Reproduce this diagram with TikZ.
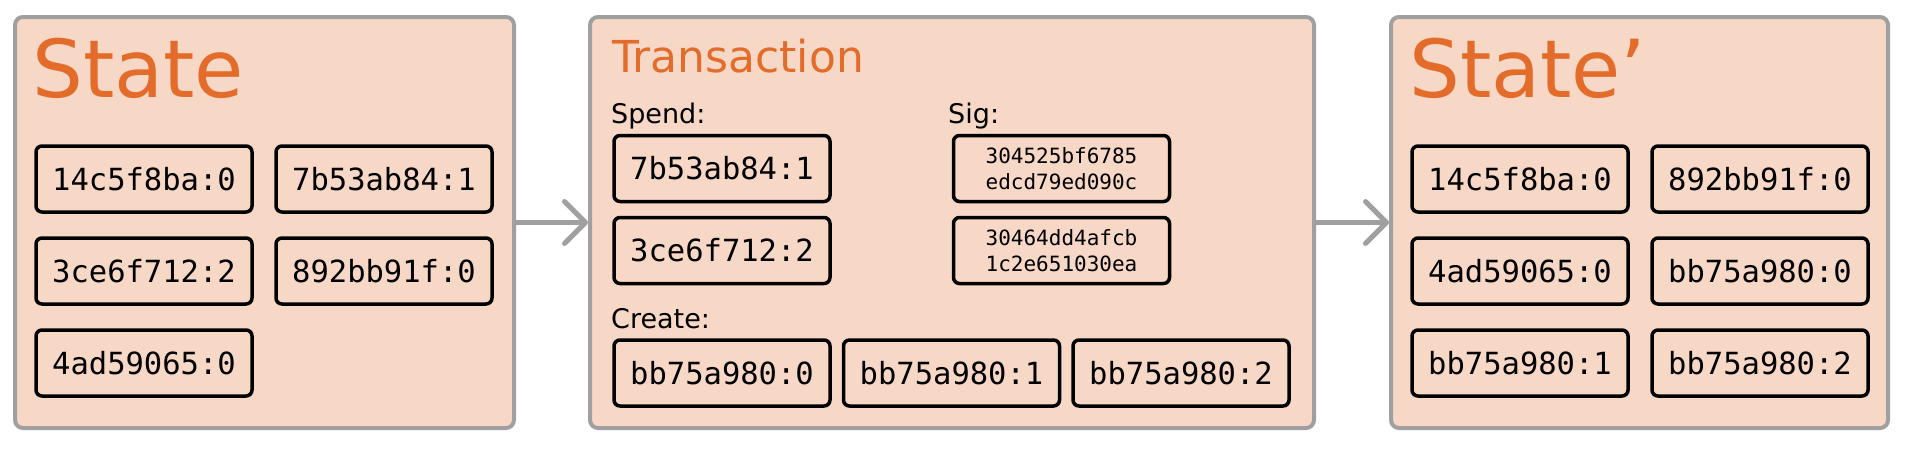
\documentclass[tikz,border=0pt]{standalone}
\usepackage{fontspec}
\setmainfont{DejaVu Sans}
\setmonofont{DejaVu Sans Mono}
\usetikzlibrary{arrows.meta}
\definecolor{peach}{HTML}{F7D7C6}
\definecolor{rust}{HTML}{E46C2B}
\definecolor{frame}{HTML}{A0A0A0}
\begin{document}
\begin{tikzpicture}[x=1pt,y=-1pt,
	panel/.style={draw=frame,line width=4pt,fill=peach,rounded corners=8pt,minimum height=411pt,inner sep=0pt},
	outp/.style={draw,line width=3.5pt,rounded corners=6pt,minimum width=216pt,minimum height=66pt,inner sep=0pt,font=\ttfamily\fontsize{30.5}{36}\selectfont},
	sigbox/.style={outp,align=center,font=\ttfamily\fontsize{21}{26}\selectfont},
	title/.style={anchor=base west,inner sep=0pt,text=rust},
	lbl/.style={anchor=base west,inner sep=0pt,font=\fontsize{27}{32}\selectfont},
	flow/.style={draw=frame,line width=5pt,-{Straight Barb[length=21pt,width=42pt,round]}}]
	\useasboundingbox(0,0)rectangle(1910,450);
	\node[panel,minimum width=499pt](state)at(264.5,222.5){};
	\node[panel,minimum width=724pt](tx)at(952,222.5){};
	\node[panel,minimum width=497pt](statep)at(1639.5,222.5){};
	\draw[flow](state)--(tx);
	\draw[flow](tx)--(statep);
	\node[title,font=\fontsize{80}{96}\selectfont](stitle)at(32,97){State};
	\node[outp](a1)at(144,179){14c5f8ba:0};
	\node[outp](a2)at(384,179){7b53ab84:1};
	\node[outp](a3)at(144,271){3ce6f712:2};
	\node[outp](a4)at(384,271){892bb91f:0};
	\node[outp](a5)at(144,363){4ad59065:0};
	\node[title,font=\fontsize{44}{52}\selectfont](ttitle)at(612,72){Transaction};
	\node[lbl](spend)at(611,123){Spend:};
	\node[lbl](sig)at(948,123){Sig:};
	\node[outp](in1)at(722,168.5){7b53ab84:1};
	\node[outp](in2)at(722,250.5){3ce6f712:2};
	\node[sigbox](sig1)at(1061.5,168.5){304525bf6785\\edcd79ed090c};
	\node[sigbox](sig2)at(1061.5,250.5){30464dd4afcb\\1c2e651030ea};
	\node[lbl](create)at(611,328){Create:};
	\node[outp](out0)at(722,373){bb75a980:0};
	\node[outp](out1)at(951.5,373){bb75a980:1};
	\node[outp](out2)at(1181,373){bb75a980:2};
	\node[title,font=\fontsize{80}{96}\selectfont](ptitle)at(1409,97){State’};
	\node[outp](b1)at(1520,179){14c5f8ba:0};
	\node[outp](b2)at(1760,179){892bb91f:0};
	\node[outp](b3)at(1520,271){4ad59065:0};
	\node[outp](b4)at(1760,271){bb75a980:0};
	\node[outp](b5)at(1520,363){bb75a980:1};
	\node[outp](b6)at(1760,363){bb75a980:2};
\end{tikzpicture}
\end{document}
